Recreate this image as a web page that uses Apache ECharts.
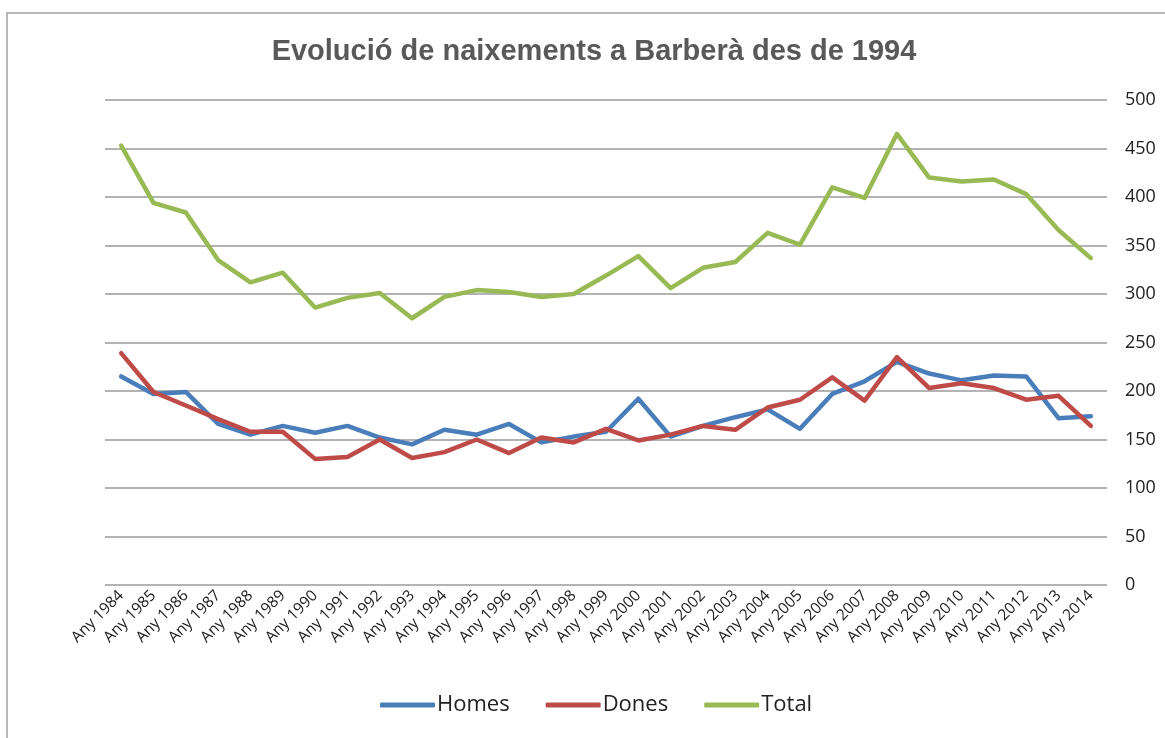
<!DOCTYPE html>
<html>
<head>
<meta charset="utf-8">
<script src="https://cdn.jsdelivr.net/npm/echarts@6/dist/echarts.min.js"></script>
<style>
  html, body { margin: 0; padding: 0; background: #fff; }
  #chart { width: 1165px; height: 738px; }
</style>
</head>
<body>
<div id="chart"></div>
<script>
// categories
const years = [];
for (let y = 1984; y <= 2014; y++) years.push("Any " + y);

// series values
const homes = [215, 197, 199, 166, 155, 164, 157, 164, 152, 145, 160, 155, 166, 147, 153, 158,
  192, 153, 164, 173, 181, 161, 197, 210, 230, 218, 211, 216, 215, 172, 174];
const dones = [239, 199, 185, 171, 158, 158, 130, 132, 150, 131, 137, 150, 136, 152, 147, 161,
  149, 155, 164, 160, 183, 191, 214, 190, 235, 203, 208, 203, 191, 195, 164];
const total = [453, 394, 384, 335, 312, 322, 286, 296, 301, 275, 297, 304, 302, 297, 300, 319,
  339, 306, 327, 333, 363, 351, 410, 399, 465, 420, 416, 418, 403, 366, 337];

const colors = { homes: "#4a7ebb", dones: "#be4b48", total: "#98b954" };

const chart = echarts.init(document.getElementById("chart"));

function lineSeries(name, data, color) {
  return {
    name: name,
    type: "line",
    data: data,
    symbol: "none",
    lineStyle: { width: 4.5, color: color, cap: "round", join: "round" },
    itemStyle: { color: color },
    animation: false
  };
}

chart.setOption({
  animation: false,
  title: {
    text: "Evolució de naixements a Barberà des de 1994",
    left: 589,
    textAlign: "center",
    top: 32,
    textStyle: {
      fontFamily: "Liberation Sans, Arial, sans-serif",
      fontWeight: "bold",
      fontSize: 29,
      color: "#595959"
    }
  },
  graphic: [
    {
      type: "rect",
      shape: { x: 7, y: 13, width: 1200, height: 800 },
      style: { fill: "none", stroke: "#a0a0a0", lineWidth: 1.5 },
      silent: true
    }
  ],
  legend: {
    bottom: 17,
    left: 375,
    itemWidth: 55,
    itemHeight: 5,
    itemGap: 36,
    icon: "roundRect",
    textStyle: {
      fontFamily: "Open Sans, Liberation Sans, sans-serif",
      fontSize: 22,
      color: "#222",
      padding: [0, 0, 0, -3]
    },
    data: ["Homes", "Dones", "Total"]
  },
  grid: {
    left: 105,
    right: 58,
    top: 100,
    bottom: 153
  },
  xAxis: {
    type: "category",
    data: years,
    boundaryGap: true,
    axisLine: { show: false },
    axisTick: { show: false },
    axisLabel: {
      interval: 0,
      rotate: 45,
      margin: 8,
      fontFamily: "Open Sans, Liberation Sans, sans-serif",
      fontSize: 15.5,
      color: "#222"
    }
  },
  yAxis: {
    type: "value",
    position: "right",
    min: 0,
    max: 500,
    interval: 50,
    axisLine: { show: false },
    axisTick: { show: false },
    axisLabel: {
      margin: 18,
      fontFamily: "Open Sans, Liberation Sans, sans-serif",
      fontSize: 18,
      color: "#222"
    },
    splitLine: { lineStyle: { color: "#9a9a9a", width: 1.5 } }
  },
  series: [
    lineSeries("Homes", homes, colors.homes),
    lineSeries("Dones", dones, colors.dones),
    lineSeries("Total", total, colors.total)
  ]
});
</script>
</body>
</html>
